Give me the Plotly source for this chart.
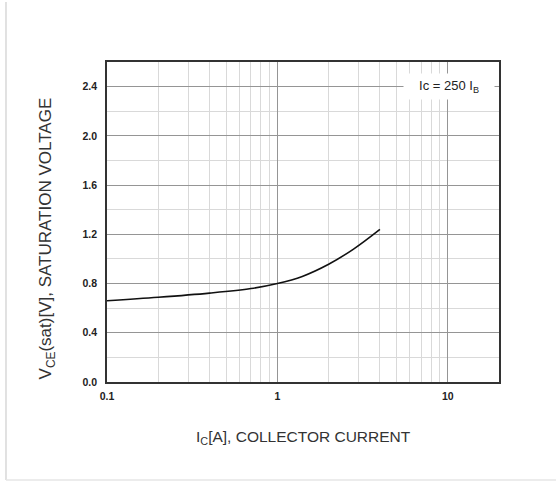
import plotly.graph_objects as go

# Data
ic_current = [0.1, 0.2, 0.4, 0.7, 1.0, 1.4, 2.0, 2.8, 4.0]
vce_sat = [0.66, 0.688, 0.722, 0.759, 0.80, 0.858, 0.957, 1.08, 1.24]

x_major = [0.1, 1, 10]
x_minor = [0.2, 0.3, 0.4, 0.5, 0.6, 0.7, 0.8, 0.9,
           2, 3, 4, 5, 6, 7, 8, 9, 20]
y_major = [0.0, 0.4, 0.8, 1.2, 1.6, 2.0, 2.4]
y_minor = [0.2, 0.6, 1.0, 1.4, 1.8, 2.2]

fig = go.Figure()
fig.add_trace(go.Scatter(
    x=ic_current, y=vce_sat, mode="lines",
    line=dict(color="#111111", width=1.6, shape="spline", smoothing=1.0),
    showlegend=False, hoverinfo="skip"))

tickfont = dict(family="Liberation Sans, Arial, sans-serif", size=10.5, color="#222222", weight="bold")
axis_common = dict(
    showline=True, linecolor="#333333", linewidth=1.6, mirror=True,
    gridcolor="#959595", gridwidth=1, ticks="", zeroline=False,
    tickfont=tickfont,
)

fig.update_xaxes(
    type="log", range=[-1, 1.30103],
    tickmode="array", tickvals=x_major, ticktext=["0.1", "1", "10"],
    minor=dict(tickmode="array", tickvals=x_minor, showgrid=True,
               gridcolor="#d9d9d9", gridwidth=1, ticks=""),
    ticklabelstandoff=4,
    **axis_common)
fig.update_yaxes(
    range=[0, 2.6],
    tickmode="array", tickvals=y_major, ticktext=[f"{v:.1f}" for v in y_major],
    minor=dict(tickmode="array", tickvals=y_minor, showgrid=True,
               gridcolor="#d9d9d9", gridwidth=1, ticks=""),
    ticklabelstandoff=6,
    **axis_common)

xtitle_font = dict(family="Liberation Sans, Arial, sans-serif", size=15.5, color="#333333")
ytitle_font = dict(family="Liberation Sans, Arial, sans-serif", size=17, color="#333333")

fig.update_layout(
    width=556, height=481,
    margin=dict(l=107, r=57, t=62, b=99),
    paper_bgcolor="white", plot_bgcolor="white",
    annotations=[
        dict(text="I<sub>C</sub>[A], COLLECTOR CURRENT", xref="paper", yref="paper",
             x=0.5, y=-0.172, xanchor="center", yanchor="middle",
             showarrow=False, font=xtitle_font),
        dict(text="V<sub>CE</sub>(sat)[V], SATURATION VOLTAGE", xref="paper", yref="paper",
             x=-0.152, y=0.45, xanchor="center", yanchor="middle", textangle=-90,
             showarrow=False, font=ytitle_font),
        dict(text="Ic = 250 I<sub>B</sub>", xref="paper", yref="y",
             x=0.872, y=2.4, xanchor="center", yanchor="middle",
             width=86, height=21, bgcolor="white", borderpad=2,
             showarrow=False, font=dict(family="Liberation Sans, Arial, sans-serif",
                                        size=13, color="#222222")),
    ],
    shapes=[
        dict(type="line", xref="paper", yref="paper", x0=-0.2577, x1=-0.2577,
             y0=-0.306, y1=1.1875, line=dict(color="#d8d8d8", width=1.5)),
        dict(type="line", xref="paper", yref="paper", x0=-0.2577, x1=1.15,
             y0=-0.306, y1=-0.306, line=dict(color="#e6e6e6", width=1.5)),
    ],
)

fig.write_html("out.html")
